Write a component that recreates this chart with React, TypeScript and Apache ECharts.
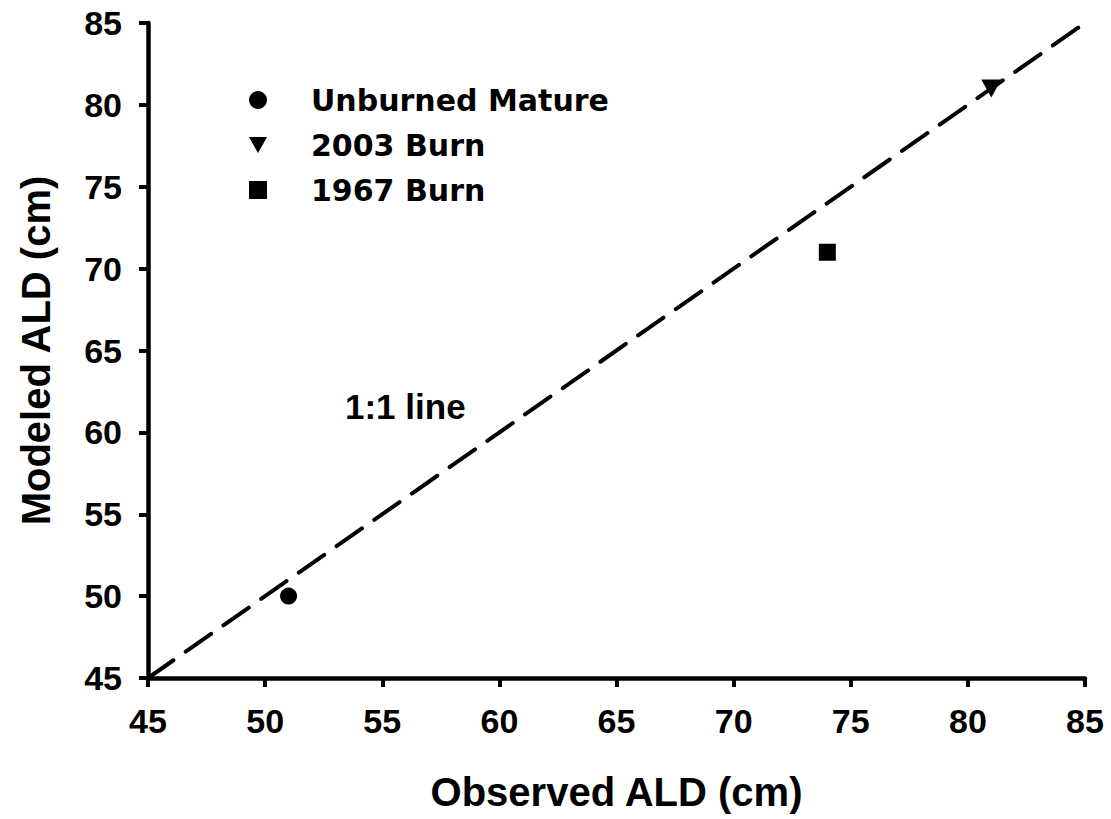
import React, { useEffect, useRef } from "react";
import * as echarts from "echarts";

const seriesNames = ["Unburned Mature", "2003 Burn", "1967 Burn"];
const unburnedMature: number[][] = [[51, 50]];
const burn2003: number[][] = [[81, 81]];
const burn1967: number[][] = [[74, 71]];
const oneToOneLine: number[][] = [[45, 45], [85, 85]];
const axisMin = 45;
const axisMax = 85;
const axisInterval = 5;
const xAxisName = "Observed ALD (cm)";
const yAxisName = "Modeled ALD (cm)";
const lineLabel = "1:1 line";

const TRI_DOWN = "path://M0,0L20,0L10,18Z";
const AX_FONT = "'Liberation Sans', Arial, sans-serif";

export default function App() {
  const ref = useRef<HTMLDivElement>(null);
  useEffect(() => {
    if (!ref.current) return;
    const chart = echarts.init(ref.current, undefined, { renderer: "svg" });
    const axisCommon = {
      type: "value" as const,
      min: axisMin,
      max: axisMax,
      interval: axisInterval,
      nameLocation: "middle" as const,
      nameTextStyle: { fontFamily: AX_FONT, fontWeight: "bold" as const, fontSize: 40, color: "#000" },
      axisLine: { show: true, lineStyle: { color: "#000", width: 4.5 } },
      axisTick: { show: true, inside: false, length: 9, lineStyle: { color: "#000", width: 4 } },
      axisLabel: { fontFamily: AX_FONT, fontWeight: "bold" as const, fontSize: 34, color: "#000", margin: 26 },
      splitLine: { show: false },
    };
    const pointStyle = { color: "#000", opacity: 1 };
    chart.setOption({
      animation: false,
      backgroundColor: "#fff",
      grid: { left: 148, right: 26, top: 23, bottom: 141, containLabel: false },
      xAxis: { ...axisCommon, name: xAxisName, nameGap: 94 },
      yAxis: { ...axisCommon, name: yAxisName, nameGap: 92 },
      legend: {
        data: [
          { name: seriesNames[0], icon: "circle" },
          { name: seriesNames[1], icon: TRI_DOWN },
          { name: seriesNames[2], icon: "rect" },
        ],
        orient: "vertical",
        left: 244,
        top: 80,
        itemWidth: 18,
        itemHeight: 18,
        itemGap: 15,
        itemStyle: { color: "#000", opacity: 1 },
        textStyle: {
          fontFamily: "'DejaVu Sans', sans-serif",
          fontWeight: "bold",
          fontSize: 30,
          lineHeight: 30,
          color: "#000",
          padding: [0, 0, 0, 39],
        },
        selectedMode: false,
      },
      graphic: [
        {
          type: "text",
          left: 345,
          top: 389,
          style: {
            text: lineLabel,
            font: `bold 35px ${AX_FONT}`,
            fill: "#000",
          },
        },
      ],
      series: [
        {
          type: "line",
          name: "1:1",
          data: oneToOneLine,
          symbol: "none",
          lineStyle: { color: "#000", width: 4, type: [31, 15], cap: "round" },
          silent: true,
          z: 1,
        },
        {
          type: "scatter",
          name: seriesNames[0],
          data: unburnedMature,
          symbol: "circle",
          symbolSize: 17,
          itemStyle: pointStyle,
          z: 3,
        },
        {
          type: "scatter",
          name: seriesNames[1],
          data: burn2003,
          symbol: TRI_DOWN,
          symbolSize: [20, 18],
          itemStyle: pointStyle,
          z: 3,
        },
        {
          type: "scatter",
          name: seriesNames[2],
          data: burn1967,
          symbol: "rect",
          symbolSize: 17,
          itemStyle: pointStyle,
          z: 3,
        },
      ],
    });
    return () => chart.dispose();
  }, []);
  return (
    <div
      ref={ref}
      style={{ position: "absolute", left: 0, top: 0, width: 1111, height: 819, background: "#fff" }}
    />
  );
}
